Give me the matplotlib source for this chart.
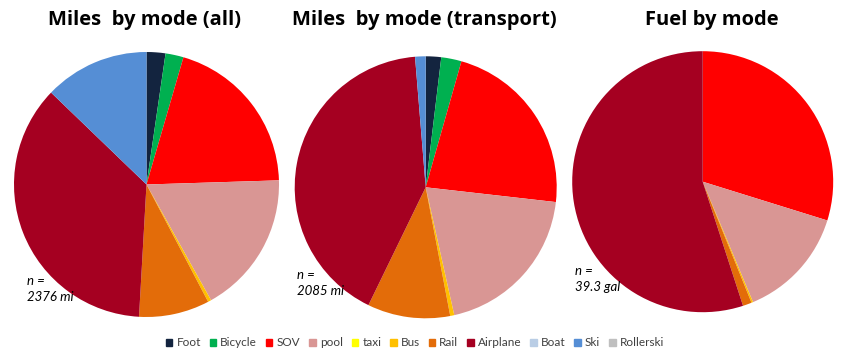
import matplotlib.pyplot as plt
from matplotlib.patches import Patch

# modos e cores (ordem da legenda)
modes = ['Foot', 'Bicycle', 'SOV', 'pool', 'taxi', 'Bus', 'Rail', 'Airplane', 'Boat', 'Ski', 'Rollerski']
colors = ['#13243F', '#00B050', '#FF0000', '#D99694', '#FFFF00', '#FFC000',
          '#E36C09', '#A50021', '#B9CDE5', '#558ED5', '#BFBFBF']

# participacao (%) de cada modo
miles_all = [2.3, 2.2, 20.0, 17.4, 0.0, 0.4, 8.6, 36.3, 0.0, 12.8, 0.0]
miles_transport = [1.9, 2.5, 22.4, 19.7, 0.0, 0.5, 10.2, 41.5, 0.0, 1.3, 0.0]
fuel = [0.0, 0.0, 29.8, 13.9, 0.0, 0.2, 1.1, 55.0, 0.0, 0.0, 0.0]

titles = ['Miles  by mode (all)', 'Miles  by mode (transport)', 'Fuel by mode']
totals = ['2376 mi', '2085 mi', '39.3 gal']
series = [miles_all, miles_transport, fuel]

W, H = 845, 356
fig = plt.figure(figsize=(W / 100, H / 100), dpi=100)

# centro e raio de cada pizza, em pixels
pies = [(146.5, 184.5, 132.5), (425.7, 187.3, 131.0), (702.7, 181.7, 130.5)]
title_x = [145, 424, 712]
note_xy = [(27, 289), (297, 283), (575, 279)]

for vals, (cx, cy, r), t, tx in zip(series, pies, titles, title_x):
    ax = fig.add_axes([(cx - r) / W, (H - cy - r) / H, 2 * r / W, 2 * r / H])
    ax.pie(vals, colors=colors, startangle=90, counterclock=False, radius=1)
    ax.set_xlim(-1, 1)
    ax.set_ylim(-1, 1)
    ax.axis('off')
    fig.text(tx / W, 1 - 20 / H, t, ha='center', va='center', fontsize=14.5,
             fontweight='bold', family='Open Sans')

# texto "n =" por cima das pizzas
for tot, (nx, ny) in zip(totals, note_xy):
    fig.text(nx / W, 1 - ny / H, 'n =\n' + tot, ha='left', va='center', fontsize=9.5,
             style='italic', linespacing=1.45, family='Lato', zorder=10)

handles = [Patch(color=c, label=m) for m, c in zip(modes, colors)]
fig.legend(handles=handles, loc='center', bbox_to_anchor=(415 / W, 1 - 343 / H), ncol=11,
           frameon=False, prop={'family': 'Lato', 'size': 8.5}, labelcolor='#404040',
           handlelength=0.55, handleheight=0.6, handletextpad=0.35, columnspacing=0.75)

plt.savefig('out.png', dpi=100)
